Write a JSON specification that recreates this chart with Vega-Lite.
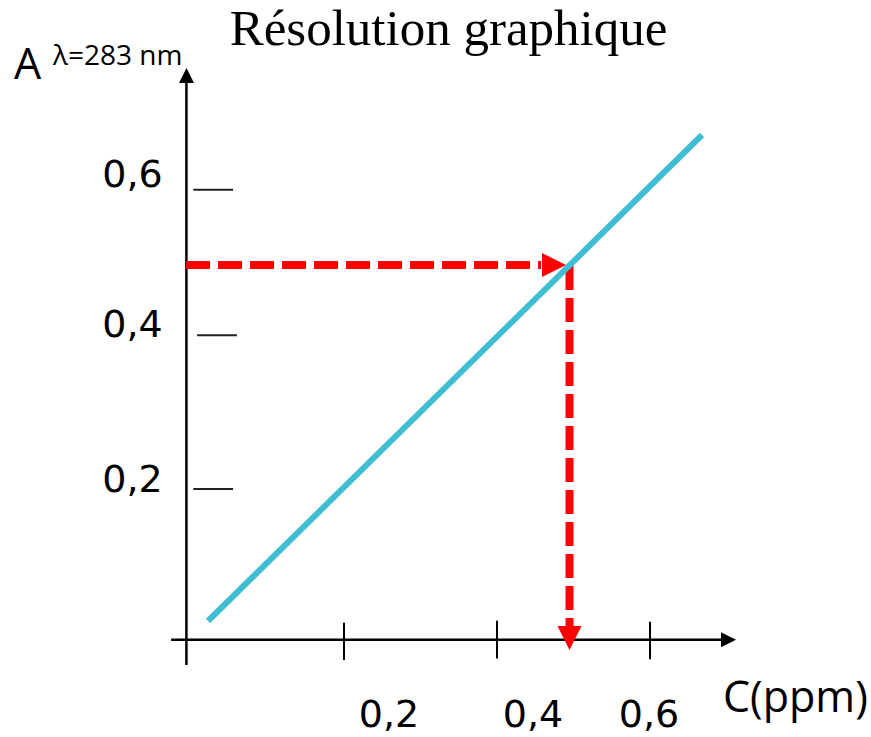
{
  "$schema": "https://vega.github.io/schema/vega-lite/v6.json",
  "width": 871,
  "height": 737,
  "autosize": "none",
  "padding": 0,
  "background": "white",
  "config": {"view": {"stroke": null}},
  "datasets": {
    "axisLines": [
      {"C": -0.006, "C2": -0.006, "A": -0.0347, "A2": 0.75},
      {"C": -0.026, "C2": 0.70, "A": -0.001, "A2": -0.001}
    ],
    "xTicks": [
      {"C": 0.2, "C2": 0.2, "A": -0.028, "A2": 0.0217},
      {"C": 0.4, "C2": 0.4, "A": -0.026, "A2": 0.0244},
      {"C": 0.6, "C2": 0.6, "A": -0.027, "A2": 0.023}
    ],
    "yTicks": [
      {"C": 0.003, "C2": 0.055, "A": 0.599, "A2": 0.599},
      {"C": 0.008, "C2": 0.060, "A": 0.405, "A2": 0.405},
      {"C": 0.003, "C2": 0.055, "A": 0.2, "A2": 0.2}
    ],
    "arrowUp": [{"C": -0.0059, "A": 0.7613}],
    "arrowRight": [{"C": 0.7124, "A": -0.001}],
    "redH": [{"C": -0.0065, "C2": 0.4575, "A": 0.4987, "A2": 0.4987}],
    "redV": [{"C": 0.4948, "C2": 0.4948, "A": 0.4973, "A2": 0.0147}],
    "redArrowRight": [{"C": 0.4902, "A": 0.4987}],
    "redArrowDown": [{"C": 0.4948, "A": -0.0147}],
    "curve": [
      {"C": 0.0222, "A": 0.024},
      {"C": 0.668, "A": 0.672}
    ],
    "yLabels": [
      {"label": "0,6", "C": -0.0765, "A": 0.6027},
      {"label": "0,4", "C": -0.0765, "A": 0.4027},
      {"label": "0,2", "C": -0.0765, "A": 0.196}
    ],
    "xLabels": [
      {"label": "0,2", "C": 0.2588, "A": -0.1173},
      {"label": "0,4", "C": 0.447, "A": -0.1173},
      {"label": "0,6", "C": 0.5987, "A": -0.1173}
    ],
    "titleText": [{"label": "Résolution graphique", "C": 0.3366, "A": 0.792}],
    "aLabel": [{"label": "A", "C": -0.2314, "A": 0.7467}],
    "lambdaLabel": [{"label": "λ=283 nm", "C": -0.1804, "A": 0.7653}],
    "cLabel": [{"label": "C(ppm)", "C": 0.6954, "A": -0.0969}]
  },
  "encoding": {
    "x": {"field": "C", "type": "quantitative", "scale": {"domain": [-0.24967, 0.88889], "nice": false, "zero": false}, "axis": null},
    "y": {"field": "A", "type": "quantitative", "scale": {"domain": [-0.13067, 0.852], "nice": false, "zero": false}, "axis": null}
  },
  "layer": [
    {"data": {"name": "axisLines"}, "mark": {"type": "rule", "strokeWidth": 2.5, "color": "black"}, "encoding": {"x2": {"field": "C2"}, "y2": {"field": "A2"}}},
    {"data": {"name": "xTicks"}, "mark": {"type": "rule", "strokeWidth": 2, "color": "black"}, "encoding": {"x2": {"field": "C2"}, "y2": {"field": "A2"}}},
    {"data": {"name": "yTicks"}, "mark": {"type": "rule", "strokeWidth": 2, "color": "#222222"}, "encoding": {"x2": {"field": "C2"}, "y2": {"field": "A2"}}},
    {"data": {"name": "arrowUp"}, "mark": {"type": "point", "shape": "M0,0L-0.5,1L0.5,1Z", "filled": true, "color": "black", "opacity": 1, "size": 900, "strokeWidth": 0}},
    {"data": {"name": "arrowRight"}, "mark": {"type": "point", "shape": "M0,0L-0.5,1L0.5,1Z", "angle": 90, "filled": true, "color": "black", "opacity": 1, "size": 900, "strokeWidth": 0}},
    {"data": {"name": "redH"}, "mark": {"type": "rule", "strokeWidth": 8, "color": "#ff0000", "strokeDash": [24, 8], "strokeCap": "butt"}, "encoding": {"x2": {"field": "C2"}, "y2": {"field": "A2"}}},
    {"data": {"name": "redV"}, "mark": {"type": "rule", "strokeWidth": 8, "color": "#ff0000", "strokeDash": [24, 8], "strokeCap": "butt"}, "encoding": {"x2": {"field": "C2"}, "y2": {"field": "A2"}}},
    {"data": {"name": "redArrowRight"}, "mark": {"type": "point", "shape": "M0,0L-0.5,1L0.5,1Z", "angle": 90, "filled": true, "color": "#ff0000", "opacity": 1, "size": 2304, "strokeWidth": 0}},
    {"data": {"name": "redArrowDown"}, "mark": {"type": "point", "shape": "M0,0L-0.5,1L0.5,1Z", "angle": 180, "filled": true, "color": "#ff0000", "opacity": 1, "size": 2304, "strokeWidth": 0}},
    {"data": {"name": "curve"}, "mark": {"type": "line", "strokeWidth": 6, "color": "#3fbdd3", "strokeCap": "butt"}},
    {"data": {"name": "yLabels"}, "mark": {"type": "text", "font": "DejaVu Sans", "fontSize": 38, "align": "center", "baseline": "alphabetic", "color": "black"}, "encoding": {"text": {"field": "label"}}},
    {"data": {"name": "xLabels"}, "mark": {"type": "text", "font": "DejaVu Sans", "fontSize": 38, "align": "center", "baseline": "alphabetic", "color": "black"}, "encoding": {"text": {"field": "label"}}},
    {"data": {"name": "titleText"}, "mark": {"type": "text", "font": "Liberation Serif", "fontSize": 51, "align": "center", "baseline": "alphabetic", "color": "black"}, "encoding": {"text": {"field": "label"}}},
    {"data": {"name": "aLabel"}, "mark": {"type": "text", "font": "Open Sans", "fontSize": 43, "align": "left", "baseline": "alphabetic", "color": "black"}, "encoding": {"text": {"field": "label"}}},
    {"data": {"name": "lambdaLabel"}, "mark": {"type": "text", "font": "Open Sans", "fontSize": 28, "align": "left", "baseline": "alphabetic", "color": "black"}, "encoding": {"text": {"field": "label"}}},
    {"data": {"name": "cLabel"}, "mark": {"type": "text", "font": "Open Sans", "fontSize": 43, "align": "left", "baseline": "alphabetic", "color": "black"}, "encoding": {"text": {"field": "label"}}}
  ]
}
